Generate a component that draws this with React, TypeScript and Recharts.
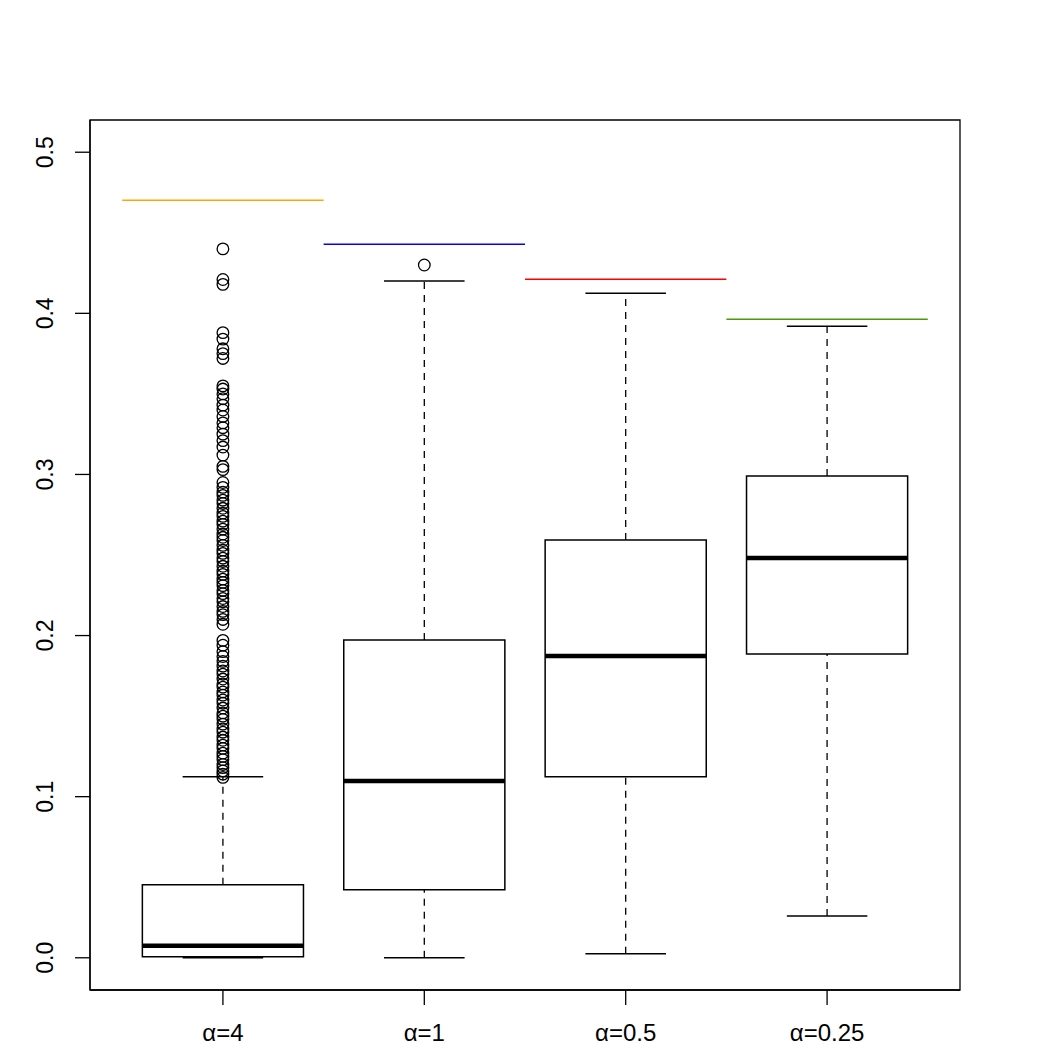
import React from 'react';
import { ComposedChart, XAxis, YAxis, Scatter, ReferenceLine, ReferenceArea } from 'recharts';

const categories = ['α=4', 'α=1', 'α=0.5', 'α=0.25'];
const lowerWhisker = [0.0, 0.0, 0.0025, 0.026];
const q1 = [0.0006, 0.0422, 0.1123, 0.1886];
const median = [0.0074, 0.1098, 0.1873, 0.2481];
const q3 = [0.0453, 0.1973, 0.2593, 0.299];
const upperWhisker = [0.1123, 0.42, 0.4125, 0.392];

const outliersA4 = [
    0.44, 0.421, 0.418, 0.388, 0.384, 0.378, 0.375, 0.372, 0.355, 0.353, 0.35, 0.347, 0.343, 0.34,
    0.336, 0.332, 0.329, 0.325, 0.321, 0.317, 0.312, 0.305, 0.303, 0.295, 0.292, 0.289, 0.287,
    0.284, 0.282, 0.279, 0.276, 0.274, 0.271, 0.269, 0.266, 0.263, 0.261, 0.259, 0.256, 0.253,
    0.251, 0.248, 0.246, 0.243, 0.24, 0.238, 0.235, 0.233, 0.231, 0.228, 0.226, 0.223, 0.221,
    0.218, 0.215, 0.213, 0.21, 0.207, 0.197, 0.194, 0.19, 0.187, 0.184, 0.181, 0.178, 0.176,
    0.173, 0.17, 0.168, 0.165, 0.163, 0.16, 0.158, 0.155, 0.152, 0.15, 0.148, 0.145, 0.142, 0.14,
    0.137, 0.135, 0.132, 0.13, 0.127, 0.125, 0.123, 0.12, 0.118, 0.116, 0.114, 0.112,
];
const outliersA1 = [0.43];
const outliersA05: number[] = [];
const outliersA025: number[] = [];

// horizontal bound drawn over each group
const bounds = [0.4702, 0.4429, 0.4212, 0.3964];
const boundColors = ['#FFA500', '#0000FF', '#FF0000', '#4E9A06'];

const yTicks = [0, 0.1, 0.2, 0.3, 0.4, 0.5];
const xTicks = [1, 2, 3, 4];

const X_DOMAIN = [0.34, 4.66];
const Y_DOMAIN = [-0.02, 0.52];
const BOX_HALF = 0.4;
const CAP_HALF = 0.2;
const FONT = '"Liberation Sans", Arial, Helvetica, sans-serif';

const outlierData = [outliersA4, outliersA1, outliersA05, outliersA025].flatMap((list, i) =>
    list.map(v => ({ x: i + 1, y: v }))
);

const YTick = (props: any) => {
    const { x, y, payload } = props;
    const tx = x - 20;
    return (
        <text x={tx} y={y} transform={`rotate(-90 ${tx} ${y})`} textAnchor="middle"
            fontSize={23} fontFamily={FONT} fill="#000">
            {payload.value.toFixed(1)}
        </text>
    );
};

const XTick = (props: any) => {
    const { x, y, payload } = props;
    return (
        <text x={x} y={y + 34} textAnchor="middle" fontSize={24} fontFamily={FONT} fill="#000">
            {categories[payload.value - 1]}
        </text>
    );
};

const OutlierDot = (props: any) => (
    <circle cx={props.cx} cy={props.cy} r={5.8} fill="none" stroke="#000" strokeWidth={1.3} />
);

export default function App() {
    return (
        <div style={{ position: 'absolute', left: 0, top: 0, background: '#fff' }}>
            <ComposedChart width={1050} height={1050} margin={{ top: 120, right: 90, bottom: 0, left: 0 }}>
                <XAxis dataKey="x" type="number" domain={X_DOMAIN} ticks={xTicks} allowDataOverflow
                    height={60} tickSize={15} tick={<XTick />} stroke="#000" strokeWidth={1.3}
                    tickLine={{ stroke: '#000', strokeWidth: 1.3 }} />
                <YAxis type="number" domain={Y_DOMAIN} ticks={yTicks} allowDataOverflow width={90}
                    tickSize={15} tick={<YTick />} stroke="#000" strokeWidth={1.3}
                    tickLine={{ stroke: '#000', strokeWidth: 1.3 }} />

                {/* plot frame */}
                <ReferenceArea x1={X_DOMAIN[0]} x2={X_DOMAIN[1]} y1={Y_DOMAIN[0]} y2={Y_DOMAIN[1]}
                    fill="none" fillOpacity={0} stroke="#000" strokeWidth={1.3} strokeOpacity={1} ifOverflow="visible" />

                {categories.map((c, i) => {
                    const cx = i + 1;
                    return (
                        <React.Fragment key={c}>
                            <ReferenceLine segment={[{ x: cx, y: q3[i] }, { x: cx, y: upperWhisker[i] }]}
                                stroke="#000" strokeWidth={1.3} strokeDasharray="7 6" ifOverflow="visible" />
                            <ReferenceLine segment={[{ x: cx, y: lowerWhisker[i] }, { x: cx, y: q1[i] }]}
                                stroke="#000" strokeWidth={1.3} strokeDasharray="7 6" ifOverflow="visible" />
                            <ReferenceLine segment={[{ x: cx - CAP_HALF, y: upperWhisker[i] }, { x: cx + CAP_HALF, y: upperWhisker[i] }]}
                                stroke="#000" strokeWidth={1.5} ifOverflow="visible" />
                            <ReferenceLine segment={[{ x: cx - CAP_HALF, y: lowerWhisker[i] }, { x: cx + CAP_HALF, y: lowerWhisker[i] }]}
                                stroke="#000" strokeWidth={1.5} ifOverflow="visible" />
                            <ReferenceArea x1={cx - BOX_HALF} x2={cx + BOX_HALF} y1={q1[i]} y2={q3[i]}
                                fill="none" fillOpacity={0} stroke="#000" strokeWidth={1.5} strokeOpacity={1} ifOverflow="visible" />
                            <ReferenceLine segment={[{ x: cx - BOX_HALF, y: median[i] }, { x: cx + BOX_HALF, y: median[i] }]}
                                stroke="#000" strokeWidth={4.5} ifOverflow="visible" />
                            <ReferenceLine segment={[{ x: cx - 0.5, y: bounds[i] }, { x: cx + 0.5, y: bounds[i] }]}
                                stroke={boundColors[i]} strokeWidth={1.5} ifOverflow="visible" />
                        </React.Fragment>
                    );
                })}

                <Scatter data={outlierData} dataKey="y" shape={<OutlierDot />} isAnimationActive={false} />
            </ComposedChart>
        </div>
    );
}
